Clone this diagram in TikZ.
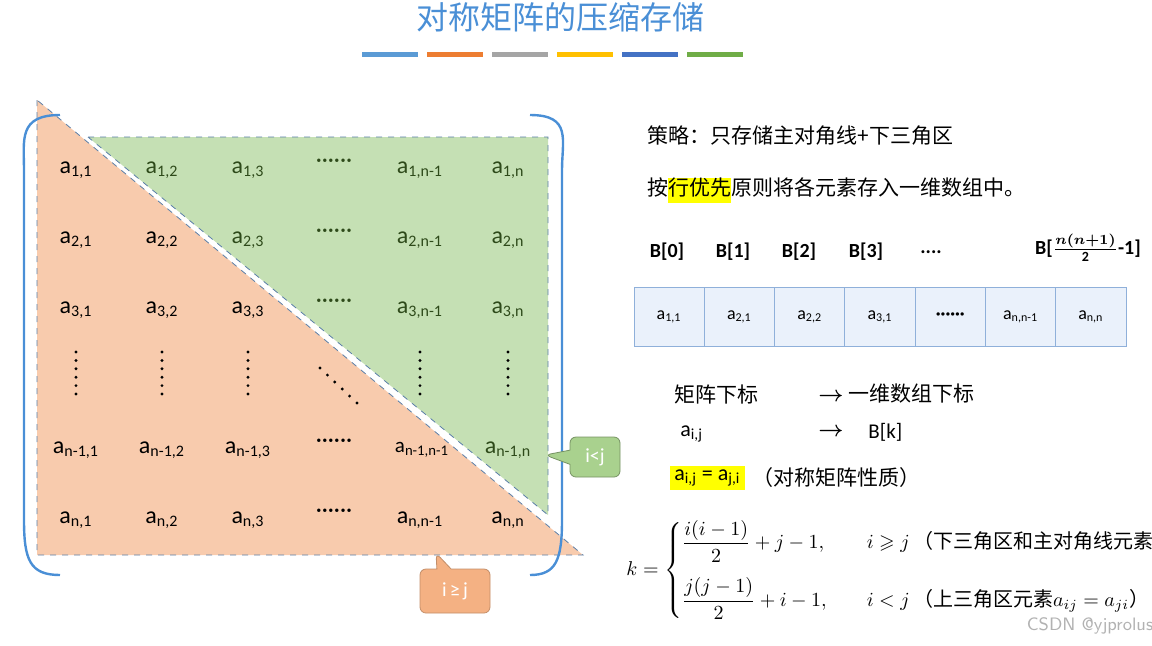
\documentclass[tikz,border=0pt]{standalone}
\usepackage{amsmath,amssymb}
\usepackage{fontspec}
\setmainfont{Carlito}
\newfontfamily\cjk{Noto Sans CJK SC}
\usetikzlibrary{shapes.callouts}
\definecolor{tblue}{HTML}{4A8FD6}
\definecolor{tri1}{HTML}{F8CBAD}
\definecolor{tri2}{HTML}{C5E0B4}
\definecolor{dgreen}{HTML}{2E4A1A}
\definecolor{dashc}{HTML}{5B7FA8}
\definecolor{cellf}{HTML}{EAF1FB}
\definecolor{celld}{HTML}{8FB0DA}
\definecolor{hy}{HTML}{FFFF00}
\definecolor{cgr}{HTML}{A9D18E}
\definecolor{cor}{HTML}{F4B183}
\tikzset{
 ent/.style={font=\fontsize{12}{12}\selectfont,inner sep=0pt},
 up/.style={ent,text=dgreen},
 rt/.style={font=\cjk\fontsize{10.5}{12}\selectfont,anchor=west,inner sep=0pt},
 bl/.style={font=\bfseries\fontsize{10}{12}\selectfont,inner sep=0pt},
 cell/.style={draw=celld,fill=cellf,minimum width=35.15pt,minimum height=29.5pt,inner sep=0pt,font=\fontsize{9}{10}\selectfont},
 bar/.style={line width=2.5pt},
}
\begin{document}
\begin{tikzpicture}[x=0.5pt,y=-0.5pt]
\useasboundingbox (0,0) rectangle (1152,645);
\node[font=\cjk\fontsize{16}{18}\selectfont,text=tblue] (title) at (560,17) {对称矩阵的压缩存储};
\foreach \c [count=\i from 0] in {5B9BD5,ED7D31,A5A5A5,FFC000,4472C4,70AD47}{
 \definecolor{bc}{HTML}{\c}
 \draw[bar,bc] ({362+\i*65},54) -- ({418+\i*65},54);
}
% triangles
\fill[tri1] (37,100) -- (37,555) -- (583,555) -- cycle;
\draw[dashc,dashed,thin] (37,100) -- (37,555) -- (583,555) -- cycle;
\fill[tri2] (88,137) -- (548,137) -- (548,515) -- cycle;
\draw[dashc,dashed,thin] (88,137) -- (548,137) -- (548,515) -- cycle;
% brackets
\draw[tblue,line width=1.2pt] (60,115) .. controls (18,115) and (24,140) .. (24,170) -- (24,520) .. controls (24,560) and (30,575) .. (60,575);
\draw[tblue,line width=1.2pt] (530,115) .. controls (572,115) and (562,140) .. (562,170) -- (562,520) .. controls (562,560) and (556,575) .. (530,575);
% entries
\node[ent] (a11) at (76,170) {a\textsubscript{1,1}};
\node[up] (a12) at (162,170) {a\textsubscript{1,2}};
\node[up] (a13) at (248,170) {a\textsubscript{1,3}};
\node[up] (a14) at (334,163) {······};
\node[up] (a15) at (420,170) {a\textsubscript{1,n-1}};
\node[up] (a16) at (508,170) {a\textsubscript{1,n}};
\node[ent] (a21) at (76,240) {a\textsubscript{2,1}};
\node[ent] (a22) at (162,240) {a\textsubscript{2,2}};
\node[up] (a23) at (248,240) {a\textsubscript{2,3}};
\node[up] (a24) at (334,233) {······};
\node[up] (a25) at (420,240) {a\textsubscript{2,n-1}};
\node[up] (a26) at (508,240) {a\textsubscript{2,n}};
\node[ent] (a31) at (76,310) {a\textsubscript{3,1}};
\node[ent] (a32) at (162,310) {a\textsubscript{3,2}};
\node[ent] (a33) at (248,310) {a\textsubscript{3,3}};
\node[up] (a34) at (334,303) {······};
\node[up] (a35) at (420,310) {a\textsubscript{3,n-1}};
\node[up] (a36) at (508,310) {a\textsubscript{3,n}};
\foreach \x/\n in {76/1,162/2,248/3,420/5,508/6}
 \foreach \k in {0,...,5} \fill (\x,{352+\k*8.4}) circle (1.6);
\foreach \k in {0,...,5} \fill ({320+\k*7.4},{368+\k*7}) circle (1.6);
\node[ent] (a51) at (76,450) {a\textsubscript{n-1,1}};
\node[ent] (a52) at (162,450) {a\textsubscript{n-1,2}};
\node[ent] (a53) at (248,450) {a\textsubscript{n-1,3}};
\node[ent] (a54) at (334,443) {······};
\node[ent,font=\fontsize{10.5}{12}\selectfont] (a55) at (422,450) {a\textsubscript{n-1,n-1}};
\node[up] (a56) at (508,450) {a\textsubscript{n-1,n}};
\node[ent] (a61) at (76,520) {a\textsubscript{n,1}};
\node[ent] (a62) at (162,520) {a\textsubscript{n,2}};
\node[ent] (a63) at (248,520) {a\textsubscript{n,3}};
\node[ent] (a64) at (334,513) {······};
\node[ent] (a65) at (420,520) {a\textsubscript{n,n-1}};
\node[ent] (a66) at (508,520) {a\textsubscript{n,n}};
% callouts
\node[rectangle callout,rounded corners=3pt,fill=cgr,draw=cgr!70!black,minimum width=25pt,minimum height=20pt,text=white,font=\fontsize{10}{12}\selectfont,callout absolute pointer={(545,455)}] (clt) at (595,457) {i<j};
\node[rectangle callout,rounded corners=3pt,fill=cor,draw=cor!80!black,minimum width=35pt,minimum height=22pt,text=white,font=\fontsize{10}{12}\selectfont,callout absolute pointer={(436,553)}] (cge) at (455,591) {i\,≥\,j};
% right text
\node[rt] (s1) at (647,136) {策略：只存储主对角线+下三角区};
\node[rt] (s2) at (647,190) {按{\setlength{\fboxsep}{0pt}\colorbox{hy}{\strut 行优先}}原则将各元素存入一维数组中。};
\node[bl] (b0) at (667,252) {B[0]};
\node[bl] (b1) at (733,252) {B[1]};
\node[bl] (b2) at (799,252) {B[2]};
\node[bl] (b3) at (866,252) {B[3]};
\node[bl] (b4) at (931,252) {....};
\node[bl] (b5) at (1088,248) {B[$\frac{\boldsymbol{n(n+1)}}{\mathbf 2}$-1]};
\foreach \t [count=\i from 0] in {a\textsubscript{1,1},a\textsubscript{2,1},a\textsubscript{2,2},a\textsubscript{3,1},\textbf{······},a\textsubscript{n,n-1},a\textsubscript{n,n}}
 \node[cell] (c\i) at ({669.1+\i*70.3},316.5) {\t};
\node[rt] (m1) at (674,394) {矩阵下标};
\node[rt] (m2) at (818,394) {$\boldsymbol\rightarrow$ 一维数组下标};
\node[rt,font=\fontsize{11}{12}\selectfont] (m3) at (680,434) {a\textsubscript{i,j}};
\node[rt] (m4) at (818,432) {$\boldsymbol\rightarrow$};
\node[rt,font=\fontsize{10.5}{12}\selectfont] (m5) at (868,432) {B[k]};
\node[rt,fill=hy,inner sep=2pt,font=\fontsize{11}{12}\selectfont] (m6) at (670,478) {a\textsubscript{i,j} = a\textsubscript{j,i}};
\node[rt] (m7) at (752,478) {（对称矩阵性质）};
\node[anchor=west,inner sep=0pt,font=\fontsize{10}{12}\selectfont] (f) at (626,570) {$k=\begin{cases}\dfrac{i(i-1)}{2}+j-1, & \quad i\geqslant j\,\text{\cjk（下三角区和主对角线元素）}\\[10pt]\dfrac{j(j-1)}{2}+i-1, & \quad i<j\,\text{\cjk（上三角区元素}a_{ij}=a_{ji}\text{\cjk）}\end{cases}$};
\node[text=gray!60,font=\fontsize{9}{10}\selectfont\sffamily] (wm) at (1090,626) {CSDN @yjprolus};
\end{tikzpicture}
\end{document}
